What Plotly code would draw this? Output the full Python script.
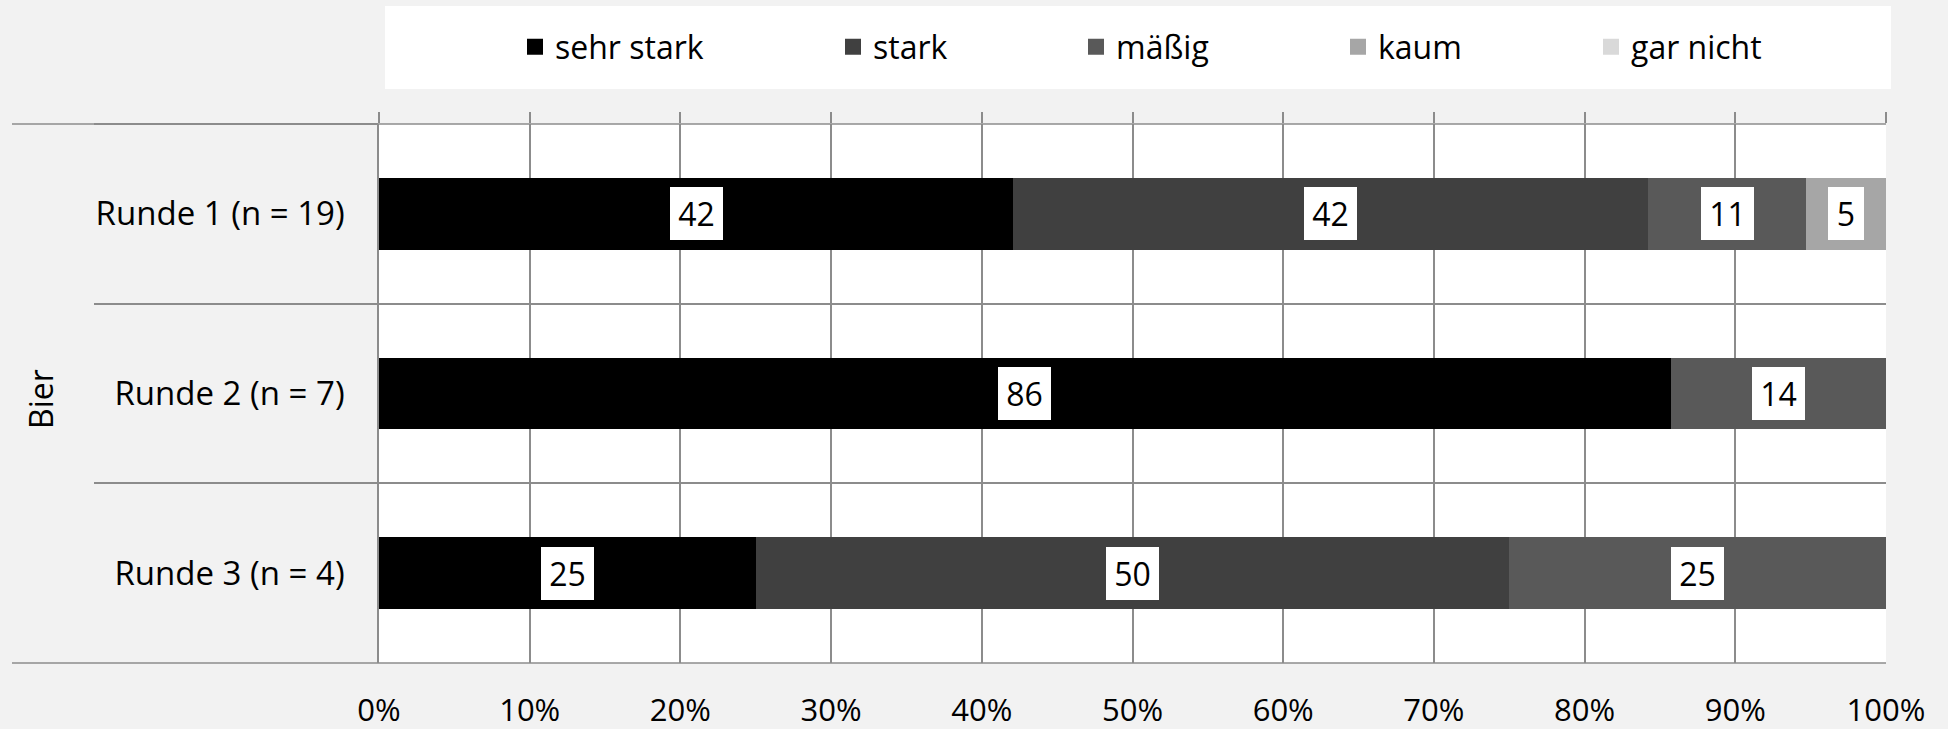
import plotly.graph_objects as go

categories = ["Runde 1 (n = 19)", "Runde 2 (n = 7)", "Runde 3 (n = 4)"]
series_names = ["sehr stark", "stark", "mäßig", "kaum", "gar nicht"]
colors = ["#000000", "#404040", "#595959", "#a6a6a6", "#d9d9d9"]
sehr_stark = [42.1, 85.7, 25.0]
stark = [42.1, 0.0, 50.0]
maessig = [10.5, 14.3, 25.0]
kaum = [5.3, 0.0, 0.0]
gar_nicht = [0.0, 0.0, 0.0]
series_values = [sehr_stark, stark, maessig, kaum, gar_nicht]
x_ticks = [0, 10, 20, 30, 40, 50, 60, 70, 80, 90, 100]
x_tick_labels = ["0%", "10%", "20%", "30%", "40%", "50%", "60%", "70%", "80%", "90%", "100%"]
group_label = "Bier"

FONT = "Open Sans"
GRID = "#8c8c8c"
W, H = 1948, 729
ML, MR, MT, MB = 379, 62, 124, 66
PW = W - ML - MR
PH = H - MT - MB

fig = go.Figure()

for name, vals, col in zip(series_names, series_values, colors):
    fig.add_trace(go.Bar(
        y=categories, x=vals, name=name, orientation="h",
        marker=dict(color=col, line=dict(width=0)),
        width=0.4, showlegend=False, hoverinfo="x+name",
    ))

# legend-only traces (one legend each, so the entries can be spread out)
legend_symbol_px = [535, 853, 1096, 1358, 1611]
for i, (name, col) in enumerate(zip(series_names, colors)):
    lg = "legend" if i == 0 else f"legend{i+1}"
    fig.add_trace(go.Scatter(
        x=[None] * len(categories), y=categories, xaxis="x2", yaxis="y2",
        mode="markers", name=name, legend=lg,
        marker=dict(symbol="square", size=16, color=col),
        hoverinfo="skip",
    ))

# data labels in white boxes
annotations = []
cum = [0.0] * len(categories)
for vals in series_values:
    for j, v in enumerate(vals):
        if v > 0:
            label = str(int(v + 0.5))
            annotations.append(dict(
                x=cum[j] + v / 2, y=categories[j], xref="x", yref="y",
                text=label, showarrow=False,
                font=dict(family=FONT, size=32, color="black"),
                width=9 + 17 * len(label), height=43, align="center", valign="middle",
                bgcolor="white", borderpad=4, borderwidth=1, bordercolor="white",
            ))
        cum[j] += v

annotations.append(dict(
    x=(41 - ML) / PW, y=0.49, xref="paper", yref="paper",
    xanchor="center", yanchor="middle",
    text=group_label, textangle=-90, showarrow=False,
    font=dict(family=FONT, size=32, color="black"),
))

legends = {}
for i, px in enumerate(legend_symbol_px):
    key = "legend" if i == 0 else f"legend{i+1}"
    legends[key] = dict(
        orientation="h", xref="container", yref="container",
        x=(px - 20) / W, y=1 - 47 / H, xanchor="left", yanchor="middle",
        bgcolor="rgba(0,0,0,0)", font=dict(family=FONT, size=32, color="black"),
        itemclick=False,
    )

left_ext = -(ML - 12) / PW
shapes = [
    # white legend box
    dict(type="rect", xref="paper", yref="paper",
         x0=(385 - ML) / PW, x1=(1891 - ML) / PW,
         y0=(H - MB - 89) / PH, y1=(H - MB - 6) / PH,
         fillcolor="white", line=dict(width=0), layer="below"),
    # top and bottom border lines, extended left over the category area
    dict(type="line", xref="paper", yref="paper", x0=left_ext, x1=1, y0=1, y1=1,
         line=dict(color=GRID, width=1.5)),
    dict(type="line", xref="paper", yref="paper", x0=left_ext, x1=1, y0=0, y1=0,
         line=dict(color=GRID, width=1.5)),
]

fig.update_layout(
    width=W, height=H,
    margin=dict(l=ML, r=MR, t=MT, b=MB, autoexpand=False),
    paper_bgcolor="#f2f2f2", plot_bgcolor="white",
    barmode="stack", bargap=0.6,
    font=dict(family=FONT, size=32, color="black"),
    annotations=annotations, shapes=shapes,
    **legends,
    xaxis=dict(
        range=[0, 100], tickmode="array", tickvals=x_ticks, ticktext=x_tick_labels,
        showgrid=True, gridcolor=GRID, gridwidth=1.5,
        zeroline=False, showline=False, ticks="",
        tickfont=dict(family=FONT, size=31, color="black"),
        ticklabelstandoff=26, fixedrange=True,
    ),
    xaxis2=dict(
        range=[0, 100], tickvals=x_ticks, overlaying="x", side="top", anchor="y2",
        showgrid=False, zeroline=False, showline=False, showticklabels=False,
        ticks="outside", ticklen=11, tickwidth=1.5, tickcolor=GRID, fixedrange=True,
    ),
    yaxis=dict(
        type="category", categoryorder="array", categoryarray=categories,
        range=[len(categories) - 0.5, -0.5],
        tickson="boundaries", showgrid=True, gridcolor=GRID, gridwidth=1.5,
        showline=True, linecolor=GRID, linewidth=1.5, ticks="",
        zeroline=False, ticklabelstandoff=26,
        tickfont=dict(family=FONT, size=33, color="black"), fixedrange=True,
    ),
    yaxis2=dict(
        type="category", categoryorder="array", categoryarray=categories,
        range=[len(categories) - 0.5, -0.5], overlaying="y", side="left", anchor="x2",
        tickson="boundaries", ticks="outside", ticklen=ML - 95, tickwidth=1.5,
        tickcolor=GRID, showticklabels=False, showgrid=False, showline=False,
        zeroline=False, fixedrange=True,
    ),
)

fig.write_html(
    "out.html",
    config={"displayModeBar": False},
    post_script="document.body.style.margin='0';document.body.style.background='#f2f2f2';",
)
